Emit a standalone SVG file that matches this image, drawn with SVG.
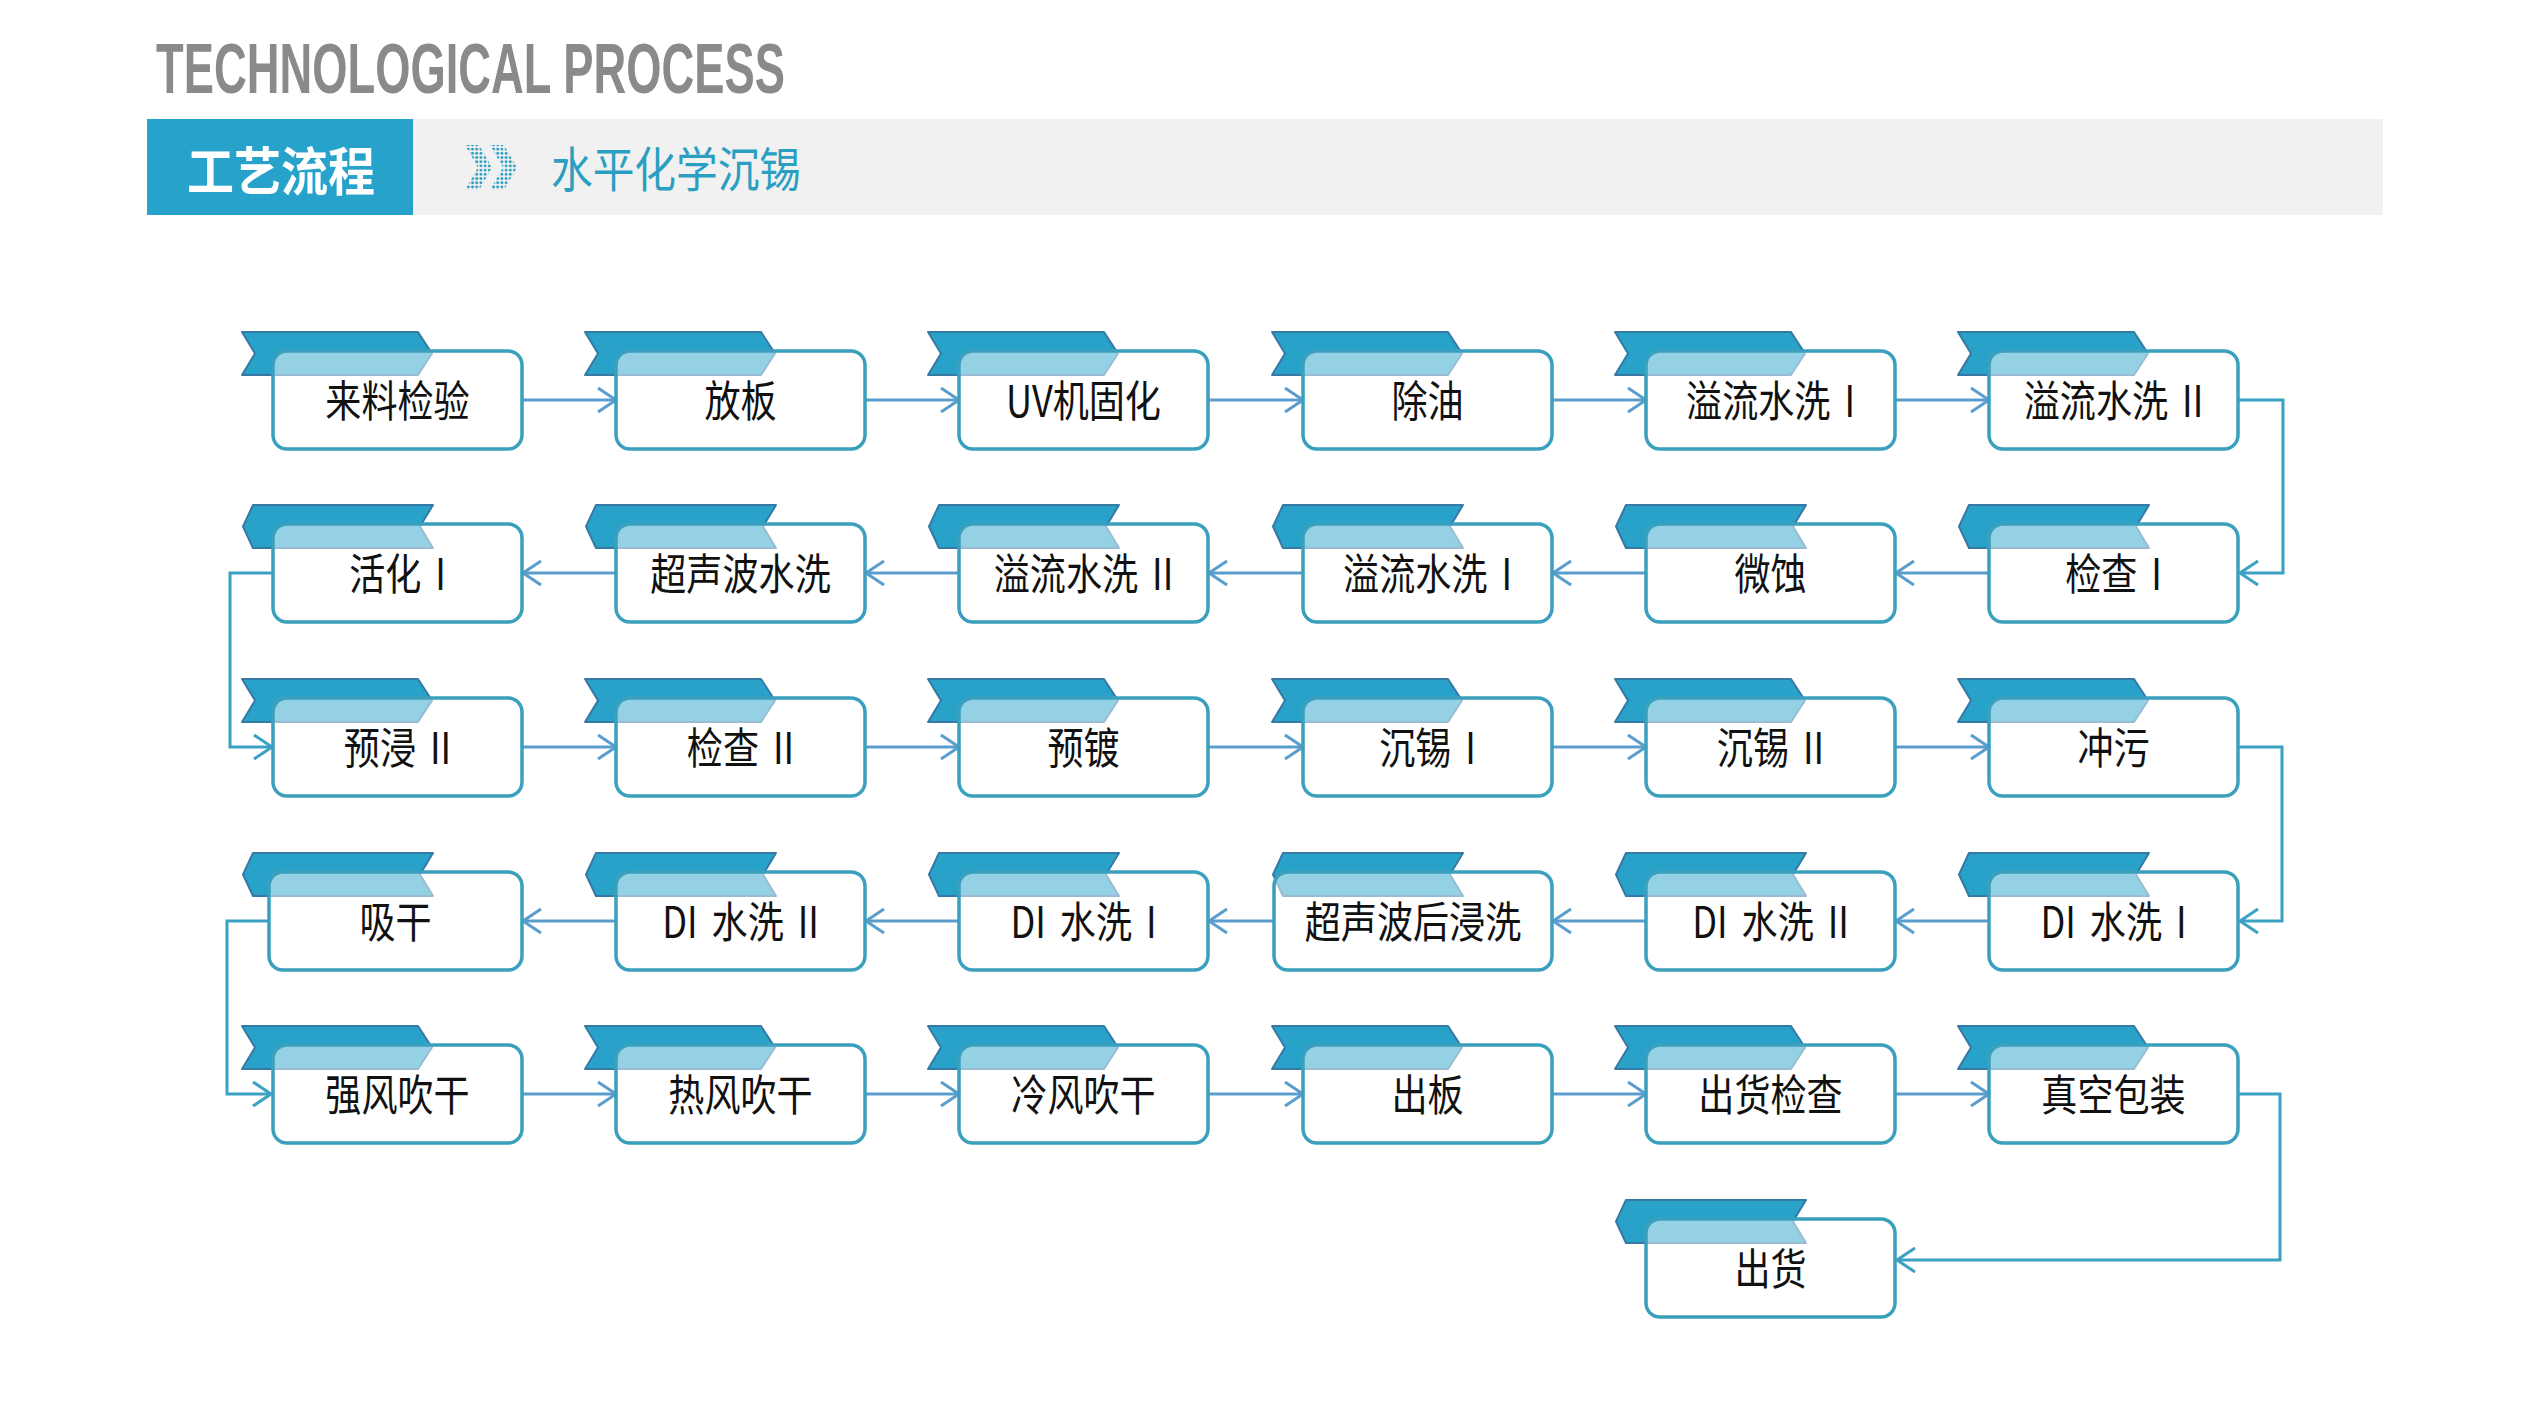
<svg xmlns="http://www.w3.org/2000/svg" width="2526" height="1422" viewBox="0 0 2526 1422">
<style>
.box{fill:#ffffff;fill-opacity:0.5;stroke:#3aa0bd;stroke-width:3.5}
.rib{fill:#29a2c9;stroke:#3579a4;stroke-width:2;stroke-linejoin:round}
.lbl{font-family:"Noto Sans CJK SC","Liberation Sans",sans-serif;font-size:43px;font-weight:400;fill:#111111;text-anchor:middle;dominant-baseline:central;word-spacing:7px}
.h{fill:none;stroke:#5a9dcd;stroke-width:3}
.e{fill:none;stroke:#3aa2c2;stroke-width:3}
</style>
<defs>
<polygon id="ribR" class="rib" points="-31,-19 145,-19 159,2.5 145,24 -31,24 -18,2.5"/>
<polygon id="ribL" class="rib" points="-20,-19 160,-19 147,2.5 160,24 -20,24 -30,2.5"/>
<marker id="ah" markerUnits="userSpaceOnUse" markerWidth="24" markerHeight="30" viewBox="0 0 24 30" refX="21" refY="15" orient="auto">
<path d="M3,3 L21,15 L3,27" fill="none" stroke="#5a9dcd" stroke-width="3"/>
</marker>
<marker id="ae" markerUnits="userSpaceOnUse" markerWidth="24" markerHeight="30" viewBox="0 0 24 30" refX="21" refY="15" orient="auto">
<path d="M3,3 L21,15 L3,27" fill="none" stroke="#3aa2c2" stroke-width="3"/>
</marker>
<pattern id="dots" patternUnits="userSpaceOnUse" width="4.2" height="4.2">
<circle cx="2.1" cy="2.1" r="1.5" fill="#2a9fc2"/>
</pattern>
</defs>
<rect width="2526" height="1422" fill="#ffffff"/>
<g id="header">
<text x="156" y="93" font-family="Liberation Sans, Arial, sans-serif" font-weight="bold" font-size="70" fill="#8a8a8a" textLength="629" lengthAdjust="spacingAndGlyphs">TECHNOLOGICAL PROCESS</text>
<rect x="413" y="119" width="1970" height="96" fill="#f1f1f1"/>
<rect x="147" y="119" width="266" height="96" fill="#27a3cb"/>
<text x="187" y="168" font-family="Noto Sans CJK SC, sans-serif" font-weight="bold" font-size="52" fill="#ffffff" dominant-baseline="central" textLength="188" lengthAdjust="spacingAndGlyphs">工艺流程</text>
<polygon points="465,145 479,145 492,167.5 479,190 465,190 478,167.5" fill="url(#dots)"/>
<polygon points="490,145 504,145 517,167.5 504,190 490,190 503,167.5" fill="url(#dots)"/>
<text x="551" y="166" font-family="Noto Sans CJK SC, sans-serif" font-size="48" fill="#2a9fc2" dominant-baseline="central" textLength="250" lengthAdjust="spacingAndGlyphs">水平化学沉锡</text>
</g>
<g id="connectors">
<path class="h" marker-end="url(#ah)" d="M522,400 H616"/>
<path class="h" marker-end="url(#ah)" d="M865,400 H959"/>
<path class="h" marker-end="url(#ah)" d="M1208,400 H1303"/>
<path class="h" marker-end="url(#ah)" d="M1552,400 H1646"/>
<path class="h" marker-end="url(#ah)" d="M1895,400 H1989"/>
<path class="e" marker-end="url(#ae)" d="M2238,400 H2283 V573 H2240"/>
<path class="h" marker-end="url(#ah)" d="M1989,573 H1896"/>
<path class="h" marker-end="url(#ah)" d="M1646,573 H1553"/>
<path class="h" marker-end="url(#ah)" d="M1303,573 H1209"/>
<path class="h" marker-end="url(#ah)" d="M959,573 H866"/>
<path class="h" marker-end="url(#ah)" d="M616,573 H523"/>
<path class="e" marker-end="url(#ae)" d="M273,573 H230 V747 H272"/>
<path class="h" marker-end="url(#ah)" d="M522,747 H616"/>
<path class="h" marker-end="url(#ah)" d="M865,747 H959"/>
<path class="h" marker-end="url(#ah)" d="M1208,747 H1303"/>
<path class="h" marker-end="url(#ah)" d="M1552,747 H1646"/>
<path class="h" marker-end="url(#ah)" d="M1895,747 H1989"/>
<path class="e" marker-end="url(#ae)" d="M2238,747 H2282 V921 H2240"/>
<path class="h" marker-end="url(#ah)" d="M1989,921 H1896"/>
<path class="h" marker-end="url(#ah)" d="M1646,921 H1553"/>
<path class="h" marker-end="url(#ah)" d="M1274,921 H1209"/>
<path class="h" marker-end="url(#ah)" d="M959,921 H866"/>
<path class="h" marker-end="url(#ah)" d="M616,921 H523"/>
<path class="e" marker-end="url(#ae)" d="M269,921 H227 V1094 H271"/>
<path class="h" marker-end="url(#ah)" d="M522,1094 H616"/>
<path class="h" marker-end="url(#ah)" d="M865,1094 H959"/>
<path class="h" marker-end="url(#ah)" d="M1208,1094 H1303"/>
<path class="h" marker-end="url(#ah)" d="M1552,1094 H1646"/>
<path class="h" marker-end="url(#ah)" d="M1895,1094 H1989"/>
<path class="e" marker-end="url(#ae)" d="M2238,1094 H2280 V1260 H1897"/>
</g>
<g id="n01"><use href="#ribR" x="273" y="351"/><rect class="box" x="273" y="351" width="249" height="98" rx="14"/><text class="lbl" transform="translate(397.5,398) scale(0.84,1)">来料检验</text></g>
<g id="n02"><use href="#ribR" x="616" y="351"/><rect class="box" x="616" y="351" width="249" height="98" rx="14"/><text class="lbl" transform="translate(740.5,398) scale(0.84,1)">放板</text></g>
<g id="n03"><use href="#ribR" x="959" y="351"/><rect class="box" x="959" y="351" width="249" height="98" rx="14"/><text class="lbl" transform="translate(1083.5,398) scale(0.84,1)">UV机固化</text></g>
<g id="n04"><use href="#ribR" x="1303" y="351"/><rect class="box" x="1303" y="351" width="249" height="98" rx="14"/><text class="lbl" transform="translate(1427.5,398) scale(0.84,1)">除油</text></g>
<g id="n05"><use href="#ribR" x="1646" y="351"/><rect class="box" x="1646" y="351" width="249" height="98" rx="14"/><text class="lbl" transform="translate(1770.5,398) scale(0.84,1)">溢流水洗 I</text></g>
<g id="n06"><use href="#ribR" x="1989" y="351"/><rect class="box" x="1989" y="351" width="249" height="98" rx="14"/><text class="lbl" transform="translate(2113.5,398) scale(0.84,1)">溢流水洗 II</text></g>
<g id="n07"><use href="#ribL" x="1989" y="524"/><rect class="box" x="1989" y="524" width="249" height="98" rx="14"/><text class="lbl" transform="translate(2113.5,571) scale(0.84,1)">检查 I</text></g>
<g id="n08"><use href="#ribL" x="1646" y="524"/><rect class="box" x="1646" y="524" width="249" height="98" rx="14"/><text class="lbl" transform="translate(1770.5,571) scale(0.84,1)">微蚀</text></g>
<g id="n09"><use href="#ribL" x="1303" y="524"/><rect class="box" x="1303" y="524" width="249" height="98" rx="14"/><text class="lbl" transform="translate(1427.5,571) scale(0.84,1)">溢流水洗 I</text></g>
<g id="n10"><use href="#ribL" x="959" y="524"/><rect class="box" x="959" y="524" width="249" height="98" rx="14"/><text class="lbl" transform="translate(1083.5,571) scale(0.84,1)">溢流水洗 II</text></g>
<g id="n11"><use href="#ribL" x="616" y="524"/><rect class="box" x="616" y="524" width="249" height="98" rx="14"/><text class="lbl" transform="translate(740.5,571) scale(0.84,1)">超声波水洗</text></g>
<g id="n12"><use href="#ribL" x="273" y="524"/><rect class="box" x="273" y="524" width="249" height="98" rx="14"/><text class="lbl" transform="translate(397.5,571) scale(0.84,1)">活化 I</text></g>
<g id="n13"><use href="#ribR" x="273" y="698"/><rect class="box" x="273" y="698" width="249" height="98" rx="14"/><text class="lbl" transform="translate(397.5,745) scale(0.84,1)">预浸 II</text></g>
<g id="n14"><use href="#ribR" x="616" y="698"/><rect class="box" x="616" y="698" width="249" height="98" rx="14"/><text class="lbl" transform="translate(740.5,745) scale(0.84,1)">检查 II</text></g>
<g id="n15"><use href="#ribR" x="959" y="698"/><rect class="box" x="959" y="698" width="249" height="98" rx="14"/><text class="lbl" transform="translate(1083.5,745) scale(0.84,1)">预镀</text></g>
<g id="n16"><use href="#ribR" x="1303" y="698"/><rect class="box" x="1303" y="698" width="249" height="98" rx="14"/><text class="lbl" transform="translate(1427.5,745) scale(0.84,1)">沉锡 I</text></g>
<g id="n17"><use href="#ribR" x="1646" y="698"/><rect class="box" x="1646" y="698" width="249" height="98" rx="14"/><text class="lbl" transform="translate(1770.5,745) scale(0.84,1)">沉锡 II</text></g>
<g id="n18"><use href="#ribR" x="1989" y="698"/><rect class="box" x="1989" y="698" width="249" height="98" rx="14"/><text class="lbl" transform="translate(2113.5,745) scale(0.84,1)">冲污</text></g>
<g id="n19"><use href="#ribL" x="1989" y="872"/><rect class="box" x="1989" y="872" width="249" height="98" rx="14"/><text class="lbl" transform="translate(2113.5,919) scale(0.84,1)">DI 水洗 I</text></g>
<g id="n20"><use href="#ribL" x="1646" y="872"/><rect class="box" x="1646" y="872" width="249" height="98" rx="14"/><text class="lbl" transform="translate(1770.5,919) scale(0.84,1)">DI 水洗 II</text></g>
<g id="n21"><use href="#ribL" x="1303" y="872"/><rect class="box" x="1274" y="872" width="278" height="98" rx="14"/><text class="lbl" transform="translate(1413,919) scale(0.84,1)">超声波后浸洗</text></g>
<g id="n22"><use href="#ribL" x="959" y="872"/><rect class="box" x="959" y="872" width="249" height="98" rx="14"/><text class="lbl" transform="translate(1083.5,919) scale(0.84,1)">DI 水洗 I</text></g>
<g id="n23"><use href="#ribL" x="616" y="872"/><rect class="box" x="616" y="872" width="249" height="98" rx="14"/><text class="lbl" transform="translate(740.5,919) scale(0.84,1)">DI 水洗 II</text></g>
<g id="n24"><use href="#ribL" x="273" y="872"/><rect class="box" x="269" y="872" width="253" height="98" rx="14"/><text class="lbl" transform="translate(395.5,919) scale(0.84,1)">吸干</text></g>
<g id="n25"><use href="#ribR" x="273" y="1045"/><rect class="box" x="273" y="1045" width="249" height="98" rx="14"/><text class="lbl" transform="translate(397.5,1092) scale(0.84,1)">强风吹干</text></g>
<g id="n26"><use href="#ribR" x="616" y="1045"/><rect class="box" x="616" y="1045" width="249" height="98" rx="14"/><text class="lbl" transform="translate(740.5,1092) scale(0.84,1)">热风吹干</text></g>
<g id="n27"><use href="#ribR" x="959" y="1045"/><rect class="box" x="959" y="1045" width="249" height="98" rx="14"/><text class="lbl" transform="translate(1083.5,1092) scale(0.84,1)">冷风吹干</text></g>
<g id="n28"><use href="#ribR" x="1303" y="1045"/><rect class="box" x="1303" y="1045" width="249" height="98" rx="14"/><text class="lbl" transform="translate(1427.5,1092) scale(0.84,1)">出板</text></g>
<g id="n29"><use href="#ribR" x="1646" y="1045"/><rect class="box" x="1646" y="1045" width="249" height="98" rx="14"/><text class="lbl" transform="translate(1770.5,1092) scale(0.84,1)">出货检查</text></g>
<g id="n30"><use href="#ribR" x="1989" y="1045"/><rect class="box" x="1989" y="1045" width="249" height="98" rx="14"/><text class="lbl" transform="translate(2113.5,1092) scale(0.84,1)">真空包装</text></g>
<g id="n31"><use href="#ribL" x="1646" y="1219"/><rect class="box" x="1646" y="1219" width="249" height="98" rx="14"/><text class="lbl" transform="translate(1770.5,1266) scale(0.84,1)">出货</text></g>
</svg>
